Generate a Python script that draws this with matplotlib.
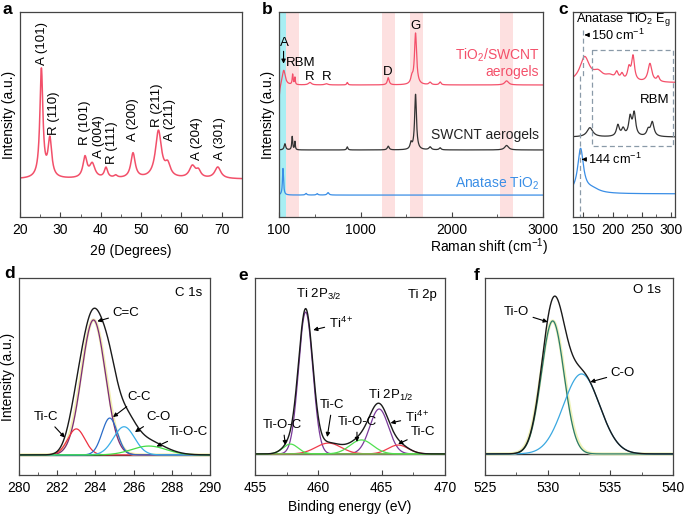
import numpy as np
import matplotlib
matplotlib.use('Agg')
import matplotlib.pyplot as plt

plt.rcParams['font.family'] = ['Liberation Sans', 'DejaVu Sans']
plt.rcParams['mathtext.fontset'] = 'custom'
plt.rcParams['mathtext.rm'] = 'Liberation Sans'
plt.rcParams['mathtext.it'] = 'Liberation Sans:italic'
plt.rcParams['font.size'] = 9.5

# ---- (a) XRD peaks: position, height above baseline, half width
xrd_base = 0.185
xrd_pos = [25.3, 27.4, 36.1, 37.9, 41.3, 43.7, 48.0, 54.3, 56.6, 62.7, 64.2, 69.0]
xrd_amp = [0.53, 0.185, 0.10, 0.068, 0.05, 0.012, 0.122, 0.23, 0.058, 0.058, 0.033, 0.056]
xrd_wid = [0.45, 0.55, 0.6, 0.8, 0.5, 0.5, 0.65, 0.9, 0.8, 0.9, 0.7, 0.9]
xrd_labels = ['A (101)', 'R (110)', 'R (101)', 'A (004)', 'R (111)', 'A (200)',
              'R (211)', 'A (211)', 'A (204)', 'A (301)']
xrd_lab_x = [25.5, 28.4, 36.1, 39.6, 42.8, 48.0, 53.9, 57.1, 63.8, 69.5]
xrd_lab_y = [0.74, 0.40, 0.35, 0.29, 0.26, 0.37, 0.44, 0.37, 0.28, 0.28]

# ---- (b) Raman spectra
red_base = 0.644
red_pos = [95, 152, 250, 275, 440, 620, 850, 1300, 1560, 1600, 1760, 1870, 2600]
red_amp = [-0.09, 0.075, 0.05, 0.035, 0.012, 0.006, 0.012, 0.035, 0.03, 0.25, 0.012, 0.014, 0.02]
red_wid = [12, 20, 6, 5, 20, 20, 8, 12, 15, 14, 15, 12, 25]
blk_base = 0.327
blk_pos = [165, 245, 275, 850, 1300, 1550, 1600, 1760, 1870, 2600]
blk_amp = [0.03, 0.065, 0.04, 0.015, 0.018, 0.03, 0.27, 0.014, 0.01, 0.022]
blk_wid = [10, 6, 5, 8, 12, 12, 12, 15, 12, 25]
blu_base = 0.107
blu_pos = [144, 397, 519, 639]
blu_amp = [0.13, 0.008, 0.007, 0.012]
blu_wid = [7, 10, 10, 12]
pink_bands = [(182, 320), (1230, 1370), (1540, 1680), (2530, 2670)]

# ---- (c) low-frequency zoom
c_red_base = 0.655
c_red_pos = [152, 175, 195, 207, 216, 228, 235, 264, 278]
c_red_amp = [0.12, 0.04, 0.025, 0.035, 0.03, 0.06, 0.12, 0.09, 0.025]
c_red_wid = [10, 10, 10, 3, 3, 3, 3, 4, 2.5]
c_blk_base = 0.39
c_blk_pos = [161, 209, 218, 230, 237, 261, 268]
c_blk_amp = [0.045, 0.055, 0.035, 0.09, 0.11, 0.03, 0.07]
c_blk_wid = [6, 3, 3, 3, 3, 3, 3.5]
c_blu_base = 0.113
c_blu_pos = [145, 165]
c_blu_amp = [0.215, 0.02]
c_blu_wid = [6, 15]

# ---- (d) C 1s fit: center, height, sigma
d_base = 0.102
d_names = ['C=C', 'Ti-C', 'C-C', 'C-O', 'Ti-O-C']
d_cen = [283.9, 283.0, 284.75, 285.5, 286.8]
d_hgt = [0.685, 0.132, 0.187, 0.143, 0.045]
d_sig = [0.62, 0.45, 0.4, 0.55, 0.9]
d_col = ['#7a2a7a', '#ee3040', '#2a6cc8', '#3aaee8', '#44dd44']

# ---- (e) Ti 2p fit
e_base = 0.107
e_cen = [459.0, 464.8, 460.8, 466.3, 457.8, 463.4]
e_hgt = [0.72, 0.228, 0.055, 0.045, 0.05, 0.071]
e_sig = [0.56, 0.74, 1.0, 0.8, 0.6, 0.9]
e_col = ['#7a3a9a', '#7a3a9a', '#f03c4c', '#f03c4c', '#50e050', '#50e050']

# ---- (f) O 1s fit
f_base = 0.107
f_cen = [530.4, 532.7]
f_hgt = [0.675, 0.406]
f_sig = [0.9, 1.45]
f_col = ['#2a7a6a', '#3aa8e0']


def lor(x, pos, amp, wid):
    y = np.zeros_like(x)
    for p, a, w in zip(pos, amp, wid):
        y += a / (1 + ((x - p) / w) ** 2)
    return y


def gau(x, c, h, s):
    return h * np.exp(-(x - c) ** 2 / (2 * s ** 2))


def style(ax, spine='#444444'):
    for s in ax.spines.values():
        s.set_color(spine)
        s.set_linewidth(0.9)
    ax.set_yticks([])
    ax.tick_params(axis='x', which='both', direction='in', labelsize=10, pad=4, color='#444444')
    ax.tick_params(axis='x', which='major', length=3.5)
    ax.tick_params(axis='x', which='minor', length=2)
    ax.set_ylim(0, 1)


arrow = dict(arrowstyle='-|>', color='k', lw=0.8, mutation_scale=6, shrinkA=1, shrinkB=0)

fig = plt.figure(figsize=(6.85, 5.14), dpi=100)
W, H = 685., 514.

def add(x0, x1, y0, y1):
    return fig.add_axes([x0 / W, 1 - y1 / H, (x1 - x0) / W, (y1 - y0) / H])

# ================= a
ax = add(20, 242, 12, 217)
style(ax)
x = np.linspace(20, 75, 1500)
ax.plot(x, xrd_base + lor(x, xrd_pos, xrd_amp, xrd_wid), color='#f2506a', lw=1.1)
ax.set_xlim(20, 75)
ax.set_xticks([20, 30, 40, 50, 60, 70])
ax.set_xticks(np.arange(25, 75, 10), minor=True)
for t, tx, ty in zip(xrd_labels, xrd_lab_x, xrd_lab_y):
    ax.text(tx, ty, t, rotation=90, ha='center', va='bottom', fontsize=9.5)
ax.set_xlabel('2θ (Degrees)', fontsize=10, labelpad=5)
ax.set_ylabel('Intensity (a.u.)', fontsize=10, labelpad=3)

# ================= b
ax = add(279, 543, 12, 217)
style(ax)
x = np.linspace(100, 3000, 4000)
ax.axvspan(100, 180, color='#a8eef3', lw=0, zorder=0)
for b0, b1 in pink_bands:
    ax.axvspan(b0, b1, color='#fde0e0', lw=0, zorder=0)
ax.plot(x, red_base + lor(x, red_pos, red_amp, red_wid), color='#f4506a', lw=0.9)
ax.plot(x, blk_base + lor(x, blk_pos, blk_amp, blk_wid), color='#333333', lw=0.9)
ax.plot(x, blu_base + lor(x, blu_pos, blu_amp, blu_wid), color='#3a8ee6', lw=0.9)
ax.set_xlim(100, 3000)
ax.set_xticks([100, 1000, 2000, 3000])
ax.set_xticks([500, 1500, 2500], minor=True)
ax.set_ylabel('Intensity (a.u.)', fontsize=10, labelpad=3)
ax.text(155, 0.849, 'A', ha='center', va='center')
ax.annotate('', xy=(150, 0.748), xytext=(150, 0.815), arrowprops=arrow)
ax.text(336, 0.75, 'RBM', ha='center', va='center')
ax.text(440, 0.683, 'R', ha='center', va='center')
ax.text(627, 0.683, 'R', ha='center', va='center')
ax.text(1297, 0.707, 'D', ha='center', va='center')
ax.text(1600, 0.93, 'G', ha='center', va='center')
ax.text(2960, 0.79, 'TiO$_2$/SWCNT', ha='right', va='center', color='#f4506a', fontsize=10)
ax.text(2960, 0.708, 'aerogels', ha='right', va='center', color='#f4506a', fontsize=10)
ax.text(2960, 0.40, 'SWCNT aerogels', ha='right', va='center', color='#222222', fontsize=10)
ax.text(2960, 0.166, 'Anatase TiO$_2$', ha='right', va='center', color='#3a8ee6', fontsize=10)
fig.text(489 / W, 1 - 247 / H, 'Raman shift (cm$^{-1}$)', ha='center', va='center', fontsize=10)

# ================= c
ax = add(573, 675, 12, 217)
style(ax)
x = np.linspace(132, 307, 1200)
ax.plot(x, c_red_base + lor(x, c_red_pos, c_red_amp, c_red_wid), color='#f4506a', lw=0.9)
ax.plot(x, c_blk_base + lor(x, c_blk_pos, c_blk_amp, c_blk_wid), color='#333333', lw=0.9)
ax.plot(x, c_blu_base + lor(x, c_blu_pos, c_blu_amp, c_blu_wid), color='#3a8ee6', lw=0.9)
ax.set_xlim(132, 307)
ax.set_xticks([150, 200, 250, 300])
ax.set_xticks([175, 225, 275], minor=True)
dash = dict(color='#8a9aa8', lw=0.9, ls=(0, (4, 2.5)))
ax.plot([150, 150], [0.912, 0.69], **dash)
ax.plot([144, 144], [0.69, 0.0], **dash)
ax.plot([165, 303, 303, 165, 165], [0.815, 0.815, 0.348, 0.348, 0.815], **dash)
ax.text(218, 0.962, 'Anatase TiO$_2$ E$_{\\rm g}$', ha='center', va='center', fontsize=9.2)
ax.annotate('150 cm$^{-1}$', xy=(152, 0.888), xytext=(163, 0.888), va='center', ha='left',
            fontsize=9.2, arrowprops=arrow)
ax.text(272, 0.571, 'RBM', ha='center', va='center', fontsize=9.5)
ax.annotate('144 cm$^{-1}$', xy=(147, 0.281), xytext=(157, 0.281), va='center', ha='left',
            fontsize=9.2, arrowprops=arrow)

# ================= d
ax = add(19, 210, 278, 475)
style(ax)
x = np.linspace(280, 290, 1200)
env = d_base + sum(gau(x, c, h, s) for c, h, s in zip(d_cen, d_hgt, d_sig)) + gau(x, 285.6, 0.05, 1.2)
ax.axhline(d_base, color='#333333', lw=1.0)
ax.plot(x, d_base + gau(x, d_cen[0], d_hgt[0], d_sig[0] * 1.04), color='#f2eeb0', lw=2.2)
for c, h, s, col in zip(d_cen, d_hgt, d_sig, d_col):
    ax.plot(x, d_base + gau(x, c, h, s), color=col, lw=0.9)
ax.plot(x, env, color='#1a1a1a', lw=1.0)
ax.set_xlim(280, 290)
ax.set_xticks(np.arange(280, 291, 2))
ax.set_xticks(np.arange(281, 290, 2), minor=True)
ax.set_ylabel('Intensity (a.u.)', fontsize=10, labelpad=3)
ax.text(288.9, 0.924, 'C 1s', ha='center', va='center')
ax.annotate('C=C', xy=(284.1, 0.78), xytext=(285.6, 0.822), ha='center', va='center', arrowprops=arrow)
ax.annotate('Ti-C', xy=(282.4, 0.19), xytext=(281.4, 0.294), ha='center', va='center', arrowprops=arrow)
ax.annotate('C-C', xy=(284.92, 0.294), xytext=(286.3, 0.396), ha='center', va='center', arrowprops=arrow)
ax.annotate('C-O', xy=(286.07, 0.218), xytext=(287.3, 0.294), ha='center', va='center', arrowprops=arrow)
ax.annotate('Ti-O-C', xy=(287.2, 0.145), xytext=(288.85, 0.218), ha='center', va='center', arrowprops=arrow)

# ================= e
ax = add(255, 445, 278, 475)
style(ax)
x = np.linspace(455, 470, 1500)
env = e_base + sum(gau(x, c, h, s) for c, h, s in zip(e_cen, e_hgt, e_sig))
ax.axhline(e_base, color='#333333', lw=1.0)
for c, h, s, col in zip(e_cen, e_hgt, e_sig, e_col):
    ax.plot(x, e_base + gau(x, c, h, s), color=col, lw=0.9)
ax.plot(x, env, color='#1a1a1a', lw=1.0)
ax.set_xlim(455, 470)
ax.set_xticks([455, 460, 465, 470])
ax.set_xticks([457.5, 462.5, 467.5], minor=True)
ax.set_xlabel('Binding energy (eV)', fontsize=10, labelpad=4)
ax.text(460.0, 0.914, 'Ti 2P$_{3/2}$', ha='center', va='center')
ax.text(468.2, 0.914, 'Ti 2p', ha='center', va='center')
ax.text(465.7, 0.406, 'Ti 2P$_{1/2}$', ha='center', va='center')
ax.annotate('Ti$^{4+}$', xy=(459.6, 0.736), xytext=(461.8, 0.77), ha='center', va='center', arrowprops=arrow)
ax.annotate('Ti$^{4+}$', xy=(465.7, 0.264), xytext=(467.8, 0.294), ha='center', va='center', arrowprops=arrow)
ax.annotate('Ti-C', xy=(466.3, 0.157), xytext=(468.3, 0.218), ha='center', va='center', arrowprops=arrow)
ax.annotate('Ti-C', xy=(460.7, 0.193), xytext=(461.1, 0.355), ha='center', va='center', arrowprops=arrow)
ax.annotate('Ti-O-C', xy=(463.05, 0.168), xytext=(463.05, 0.269), ha='center', va='center', arrowprops=arrow)
ax.annotate('Ti-O-C', xy=(457.4, 0.152), xytext=(457.2, 0.254), ha='center', va='center', arrowprops=arrow)

# ================= f
ax = add(485, 673, 278, 475)
style(ax)
x = np.linspace(525, 540, 1500)
env = f_base + sum(gau(x, c, h, s) for c, h, s in zip(f_cen, f_hgt, f_sig))
ax.axhline(f_base, color='#333333', lw=1.0)
ax.plot(x, f_base + gau(x, f_cen[0], f_hgt[0], f_sig[0] * 1.04), color='#eef2b8', lw=2.2)
for c, h, s, col in zip(f_cen, f_hgt, f_sig, f_col):
    ax.plot(x, f_base + gau(x, c, h, s), color=col, lw=0.9)
ax.plot(x, env, color='#1a1a1a', lw=1.0)
ax.set_xlim(525, 540)
ax.set_xticks([525, 530, 535, 540])
ax.set_xticks([527.5, 532.5, 537.5], minor=True)
ax.text(537.9, 0.94, 'O 1s', ha='center', va='center')
ax.annotate('Ti-O', xy=(530.0, 0.777), xytext=(527.5, 0.827), ha='center', va='center', arrowprops=arrow)
ax.annotate('C-O', xy=(533.4, 0.472), xytext=(536.0, 0.518), ha='center', va='center', arrowprops=arrow)

# panel letters
for lab, px, py in [('a', 7, 9), ('b', 267, 9), ('c', 563, 9),
                    ('d', 10, 274), ('e', 243, 275), ('f', 477, 275)]:
    fig.text(px / W, 1 - py / H, lab, fontsize=12.5, fontweight='bold', ha='center', va='center')

fig.savefig('out.png', dpi=100)
